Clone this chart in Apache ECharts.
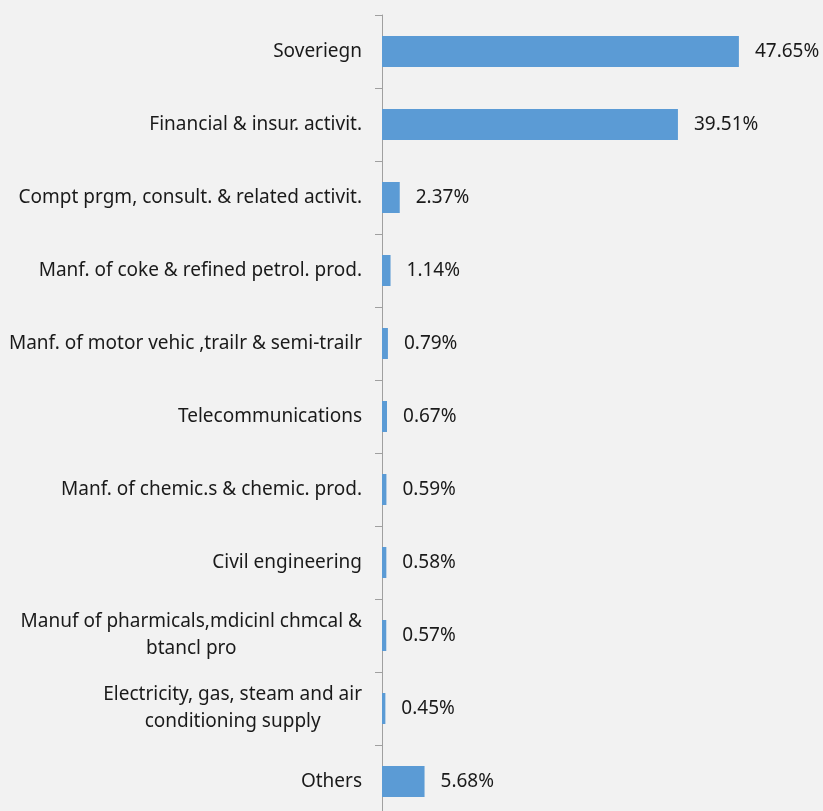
<!DOCTYPE html>
<html>
<head>
<meta charset="utf-8">
<script src="https://cdn.jsdelivr.net/npm/echarts@6/dist/echarts.min.js"></script>
<style>
  html, body { margin: 0; padding: 0; background: #f2f2f2; }
  #chart { width: 823px; height: 811px; }
</style>
</head>
<body>
<div id="chart"></div>
<script>
// sectors, top to bottom
var sectors = [
    'Soveriegn',
    'Financial & insur. activit.',
    'Compt prgm, consult. & related activit.',
    'Manf. of coke & refined petrol. prod.',
    'Manf. of motor vehic ,trailr & semi-trailr',
    'Telecommunications',
    'Manf. of chemic.s & chemic. prod.',
    'Civil engineering',
    'Manuf of pharmicals,mdicinl chmcal &\nbtancl pro',
    'Electricity, gas, steam and air\nconditioning supply',
    'Others'
];
var shares = [47.65, 39.51, 2.37, 1.14, 0.79, 0.67, 0.59, 0.58, 0.57, 0.45, 5.68];

var chart = echarts.init(document.getElementById('chart'));
var font = 'Noto Sans';

var option = {
    backgroundColor: '#f2f2f2',
    animation: false,
    grid: {
        left: 382,
        top: 15,
        width: 374.5,
        height: 803,
        outerBoundsMode: 'none'
    },
    xAxis: {
        type: 'value',
        min: 0,
        max: 50,
        show: false
    },
    yAxis: {
        type: 'category',
        inverse: true,
        data: sectors,
        axisLine: { lineStyle: { color: '#a0a0a0', width: 1 } },
        axisTick: { show: true, length: 7, lineStyle: { color: '#a0a0a0' } },
        axisLabel: {
            margin: 20,
            color: '#1a1a1a',
            fontFamily: font,
            fontSize: 19,
            lineHeight: 27,
            formatter: function (v) {
                // centre the lines of two-line labels
                return v.split('\n').map(function (s) { return '{c|' + s + '}'; }).join('\n');
            },
            rich: {
                c: { align: 'center', fontFamily: font, fontSize: 19, color: '#1a1a1a', lineHeight: 27 }
            }
        }
    },
    series: [{
        type: 'bar',
        data: shares,
        barWidth: 31,
        itemStyle: { color: '#5b9bd5' },
        label: {
            show: true,
            position: 'right',
            distance: 16,
            color: '#1a1a1a',
            fontFamily: font,
            fontSize: 19,
            formatter: function (p) { return p.value.toFixed(2) + '%'; }
        }
    }]
};

chart.setOption(option);
</script>
</body>
</html>
